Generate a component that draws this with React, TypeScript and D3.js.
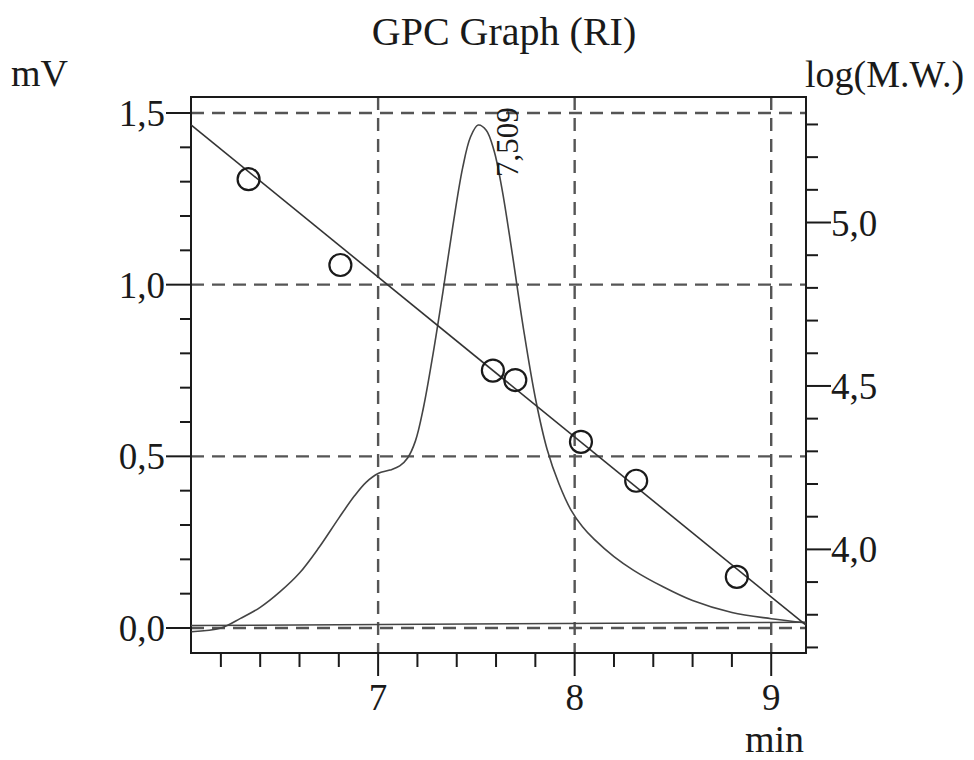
import React from "react";
import * as d3 from "d3";

// ---- data ----
const riTime = [6.05, 6.2, 6.3, 6.4, 6.5, 6.6, 6.7, 6.8, 6.88, 6.94, 7.0, 7.06, 7.11, 7.15, 7.19, 7.23, 7.28, 7.33, 7.38, 7.43, 7.47, 7.509, 7.55, 7.59, 7.63, 7.68, 7.74, 7.8, 7.86, 7.92, 7.98, 8.04, 8.1, 8.2, 8.3, 8.45, 8.6, 8.8, 9.0, 9.177];
const riSignal = [-0.011, 0.0, 0.028, 0.06, 0.105, 0.16, 0.235, 0.32, 0.385, 0.425, 0.45, 0.46, 0.472, 0.495, 0.545, 0.64, 0.8, 0.98, 1.17, 1.34, 1.43, 1.465, 1.45, 1.39, 1.28, 1.1, 0.87, 0.67, 0.52, 0.42, 0.345, 0.295, 0.258, 0.208, 0.168, 0.12, 0.08, 0.045, 0.027, 0.015];

const baselineTime = [6.048, 9.177];
const baselineSignal = [0.007, 0.017];

const stdTime = [6.341, 6.808, 7.584, 7.698, 8.032, 8.313, 8.825];
const stdLogMW = [5.1325, 4.87, 4.547, 4.518, 4.329, 4.21, 3.916];

const calibTime = [6.048, 9.177];
const calibLogMW = [5.299, 3.768];

const peakTime = 7.509;
const peakSignal = 1.465;
const peakLabel = "7,509";

const xMajorTicks = [7, 8, 9];
const xMinorTicks = [6.2, 6.4, 6.6, 6.8, 7.2, 7.4, 7.6, 7.8, 8.2, 8.4, 8.6, 8.8];
const yLeftMajor = [0, 0.5, 1.0, 1.5];
const yLeftLabels = ["0,0", "0,5", "1,0", "1,5"];
const yLeftMinor = [0.1, 0.2, 0.3, 0.4, 0.6, 0.7, 0.8, 0.9, 1.1, 1.2, 1.3, 1.4];
const yRightMajor = [4.0, 4.5, 5.0];
const yRightLabels = ["4,0", "4,5", "5,0"];
const yRightMinor = [3.7, 3.8, 3.9, 4.1, 4.2, 4.3, 4.4, 4.6, 4.7, 4.8, 4.9, 5.1, 5.2, 5.3];

const title = "GPC Graph (RI)";
const leftTitle = "mV";
const rightTitle = "log(M.W.)";
const xTitle = "min";

export default function App() {
  const W = 974, H = 760;
  const L = 191, R = 806, T = 97, B = 653;
  const x = d3.scaleLinear().domain([6.048, 9.177]).range([L, R]);
  const yL = d3.scaleLinear().domain([-0.0728, 1.5466]).range([B, T]);
  const yR = d3.scaleLinear().domain([3.683, 5.384]).range([B, T]);

  const riLine = d3
    .line<number>()
    .x((_, i) => x(riTime[i]))
    .y((_, i) => yL(riSignal[i]))
    .curve(d3.curveCatmullRom.alpha(0.5));
  const font = "'Liberation Serif', 'Times New Roman', serif";
  const ink = "#1a1a1a";
  const grid = "#555";

  return (
    <svg width={W} height={H} style={{ position: "absolute", left: 0, top: 0, background: "#fff" }} fontFamily={font}>
      <rect x={0} y={0} width={W} height={H} fill="#fff" />
      {/* gridlines */}
      {xMajorTicks.map((t) => (
        <line key={"gx" + t} x1={x(t)} x2={x(t)} y1={T} y2={B} stroke={grid} strokeWidth={2.4} strokeDasharray="13,8" />
      ))}
      {yLeftMajor.map((v) => (
        <line key={"gy" + v} x1={L} x2={R} y1={yL(v)} y2={yL(v)} stroke={grid} strokeWidth={2.4} strokeDasharray="13,8" />
      ))}
      {/* frame */}
      <rect x={L} y={T} width={R - L} height={B - T} fill="none" stroke={ink} strokeWidth={2} />
      {/* x ticks */}
      {xMinorTicks.map((t) => (
        <line key={"xm" + t} x1={x(t)} x2={x(t)} y1={B} y2={B + 14} stroke={ink} strokeWidth={2} />
      ))}
      {xMajorTicks.map((t) => (
        <g key={"xM" + t}>
          <line x1={x(t)} x2={x(t)} y1={B} y2={B + 23} stroke={ink} strokeWidth={2} />
          <text x={x(t)} y={710} fontSize={37} textAnchor="middle" fill={ink}>{String(t)}</text>
        </g>
      ))}
      {/* left ticks */}
      {yLeftMinor.map((v) => (
        <line key={"lm" + v} x1={L - 11} x2={L} y1={yL(v)} y2={yL(v)} stroke={ink} strokeWidth={2} />
      ))}
      {yLeftMajor.map((v, i) => (
        <g key={"lM" + v}>
          <line x1={L - 25} x2={L} y1={yL(v)} y2={yL(v)} stroke={ink} strokeWidth={2} />
          <text x={165} y={yL(v) + 13} fontSize={37} textAnchor="end" fill={ink}>{yLeftLabels[i]}</text>
        </g>
      ))}
      {/* right ticks */}
      {yRightMinor.map((v) => (
        <line key={"rm" + v} x1={R} x2={R + 12} y1={yR(v)} y2={yR(v)} stroke={ink} strokeWidth={2} />
      ))}
      {yRightMajor.map((v, i) => (
        <g key={"rM" + v}>
          <line x1={R} x2={R + 25} y1={yR(v)} y2={yR(v)} stroke={ink} strokeWidth={2} />
          <text x={831} y={yR(v) + 13} fontSize={37} textAnchor="start" fill={ink}>{yRightLabels[i]}</text>
        </g>
      ))}
      {/* baseline */}
      <line x1={x(baselineTime[0])} x2={x(baselineTime[1])} y1={yL(baselineSignal[0])} y2={yL(baselineSignal[1])} stroke="#444" strokeWidth={1.5} />
      {/* RI trace */}
      <path d={riLine(riTime) || ""} fill="none" stroke="#444" strokeWidth={1.6} />
      {/* calibration line */}
      <line x1={x(calibTime[0])} x2={x(calibTime[1])} y1={yR(calibLogMW[0])} y2={yR(calibLogMW[1])} stroke="#333" strokeWidth={1.6} />
      {/* standards */}
      {stdTime.map((t, i) => (
        <circle key={"s" + i} cx={x(t)} cy={yR(stdLogMW[i])} r={11} fill="none" stroke={ink} strokeWidth={2.2} />
      ))}
      {/* peak label */}
      <text transform={`translate(${x(peakTime) + 40},${yL(peakSignal) + 52}) rotate(-90)`} fontSize={31} fill={ink}>{peakLabel}</text>
      {/* titles */}
      <text x={504} y={45} fontSize={40} textAnchor="middle" fill={ink}>{title}</text>
      <text x={11} y={86} fontSize={38} fill={ink}>{leftTitle}</text>
      <text x={805} y={87} fontSize={38} fill={ink}>{rightTitle}</text>
      <text x={745} y={752} fontSize={38} fill={ink}>{xTitle}</text>
    </svg>
  );
}
